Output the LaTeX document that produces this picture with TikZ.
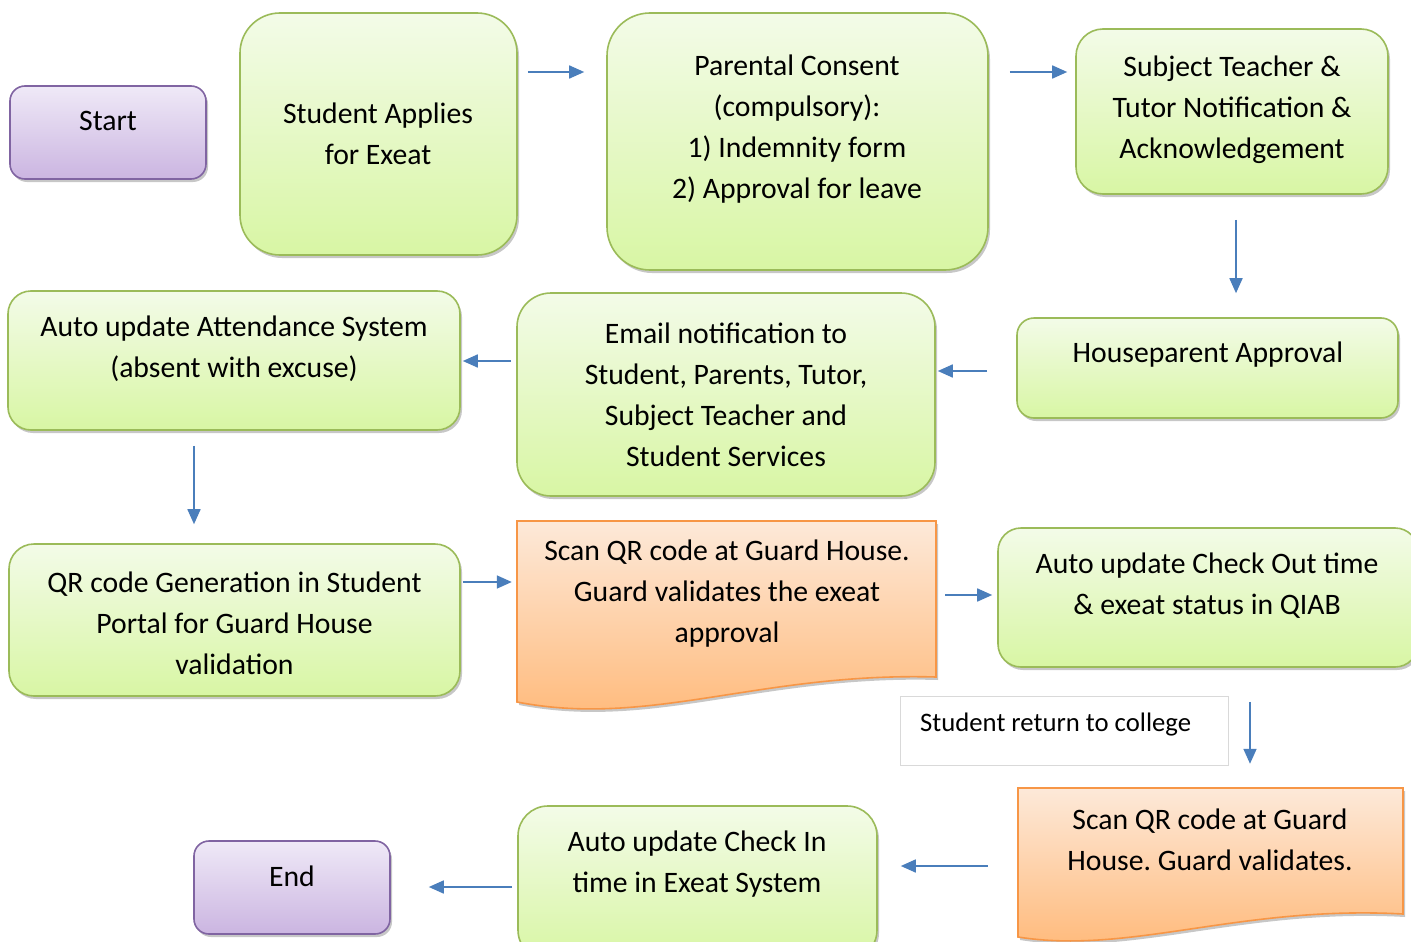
\documentclass[tikz,border=0pt]{standalone}
\usepackage{fontspec}
\setmainfont{Carlito}
\frenchspacing
\usetikzlibrary{arrows.meta,shadows,calc}
\definecolor{gtop}{HTML}{F3FBE8}
\definecolor{gbot}{HTML}{D8F6A4}
\definecolor{gborder}{HTML}{9BBB59}
\definecolor{otop}{HTML}{FDE9D9}
\definecolor{obot}{HTML}{FFB877}
\definecolor{oborder}{HTML}{F79646}
\definecolor{ptop}{HTML}{EFE9F7}
\definecolor{pbot}{HTML}{CBB5E1}
\definecolor{pborder}{HTML}{8064A2}
\definecolor{ablue}{HTML}{4A7EBB}
\begin{document}
\begin{tikzpicture}[x=1pt,y=-1pt,
  shad/.style={drop shadow={shadow xshift=2pt,shadow yshift=-3pt,opacity=0.22,fill=black}},
  gbox/.style={draw=gborder,line width=1.6pt,top color=gtop,bottom color=gbot,shad,inner sep=0pt},
  pbox/.style={draw=pborder,line width=1.6pt,top color=ptop,bottom color=pbot,shad,inner sep=0pt},
  obox/.style={draw=oborder,line width=1.6pt,top color=otop,bottom color=obot,shad},
  ghost/.style={inner sep=0pt},
  txt/.style={font=\fontsize{29.7pt}{41pt}\selectfont\frenchspacing,align=center,inner sep=0pt},
  smalltxt/.style={font=\fontsize{26.7pt}{32pt}\selectfont,inner sep=0pt},
  arr/.style={draw=ablue,line width=1.7pt,-{Triangle[length=15pt,width=13pt]}}]
\clip (0,0) rectangle (1411,942);
\fill[white] (0,0) rectangle (1411,942);

% boxes
\node[pbox,rounded corners=15pt,minimum width=196pt,minimum height=93pt] (start) at (108,132.5) {};
\node[gbox,rounded corners=40pt,minimum width=277pt,minimum height=242pt] (sa) at (378.5,134) {};
\node[gbox,rounded corners=43pt,minimum width=381pt,minimum height=257pt] (pc) at (797.5,141.5) {};
\node[gbox,rounded corners=27pt,minimum width=312pt,minimum height=165pt] (st) at (1232,111.5) {};
\node[gbox,rounded corners=17pt,minimum width=381pt,minimum height=100pt] (hp) at (1207.5,368) {};
\node[gbox,rounded corners=34pt,minimum width=418pt,minimum height=203pt] (em) at (726,394.5) {};
\node[gbox,rounded corners=23pt,minimum width=452pt,minimum height=139pt] (at) at (234,360.5) {};
\node[gbox,rounded corners=25pt,minimum width=451pt,minimum height=152pt] (qr) at (234.5,620) {};
\node[gbox,rounded corners=23pt,minimum width=420pt,minimum height=139pt] (co) at (1208,597.5) {};
\node[gbox,rounded corners=30pt,minimum width=359pt,minimum height=154pt] (ci) at (697.5,883) {};
\node[pbox,rounded corners=15pt,minimum width=196pt,minimum height=93pt] (end) at (292,887.5) {};

% document shapes
\path[obox] (517,521) -- (936,521) -- (936,677) .. controls (760,672) and (650,728) .. (517,702) -- cycle;
\node[ghost,minimum width=419pt,minimum height=181pt] (d1) at (726.5,611.5) {};
\path[obox] (1018,788) -- (1403,788) -- (1403,914) .. controls (1240,905) and (1130,955) .. (1018,937) -- cycle;
\node[ghost,minimum width=385pt,minimum height=154pt] (d2) at (1210.5,865) {};

% text box
\node[draw=black!15,line width=0.8pt,fill=white,minimum width=328pt,minimum height=69pt,inner sep=0pt] (tb) at (1064,730.5) {};

% texts
\node[txt] (t-start) at (108,121) {Start};
\node[txt] (t-sa) at (378,134) {Student Applies\\for Exeat};
\node[txt] (t-pc) at (797,129) {Parental Consent\\(compulsory):\\1) Indemnity form\\2) Approval for leave};
\node[txt] (t-st) at (1232,110) {Subject Teacher \&\\Tutor Notification \&\\Acknowledgement};
\node[txt] (t-hp) at (1208,355) {Houseparent Approval};
\node[txt] (t-em) at (726,395) {Email notification to\\Student, Parents, Tutor,\\Subject Teacher and\\Student Services};
\node[txt] (t-at) at (234,349) {Auto update Attendance System\\(absent with excuse)};
\node[txt] (t-qr) at (234.5,623.5) {QR code Generation in Student\\Portal for Guard House\\validation};
\node[txt] (t-d1) at (727,594) {Scan QR code at Guard House.\\Guard validates the exeat\\approval};
\node[txt] (t-co) at (1207,586) {Auto update Check Out time\\\& exeat status in QIAB};
\node[smalltxt,anchor=west] (t-tb) at (920,724.5) {Student return to college};
\node[txt] (t-d2) at (1210,840) {Scan QR code at Guard\\House. Guard validates.};
\node[txt] (t-ci) at (697,864) {Auto update Check In\\time in Exeat System};
\node[txt] (t-end) at (292,876) {End};

% arrow levels
\coordinate (y1) at (0,72);
\coordinate (x3) at (1236,0);
\coordinate (y4) at (0,371);
\coordinate (y5) at (0,361);
\coordinate (x6) at (194,0);
\coordinate (y7) at (0,582);
\coordinate (y8) at (0,595);
\coordinate (x9) at (1250,0);
\coordinate (y10) at (0,866);
\coordinate (y11) at (0,887);

\draw[arr,shorten <=10pt,shorten >=22pt] (sa.east |- y1) -- (pc.west |- y1);
\draw[arr,shorten <=21pt,shorten >=8pt] (pc.east |- y1) -- (st.west |- y1);
\draw[arr,shorten <=25pt,shorten >=24pt] (st.south -| x3) -- (hp.north -| x3);
\draw[arr,shorten <=29pt,shorten >=2pt] (hp.west |- y4) -- (em.east |- y4);
\draw[arr,shorten <=5pt,shorten >=2pt] (em.west |- y5) -- (at.east |- y5);
\draw[arr,shorten <=15pt,shorten >=19pt] (at.south -| x6) -- (qr.north -| x6);
\draw[arr,shorten <=2pt,shorten >=5pt] (qr.east |- y7) -- (d1.west |- y7);
\draw[arr,shorten <=9pt,shorten >=5pt] (d1.east |- y8) -- (co.west |- y8);
\draw[arr,shorten <=34pt,shorten >=24pt] (co.south -| x9) -- (d2.north -| x9);
\draw[arr,shorten <=30pt,shorten >=23pt] (d2.west |- y10) -- (ci.east |- y10);
\draw[arr,shorten <=5pt,shorten >=38pt] (ci.west |- y11) -- (end.east |- y11);
\end{tikzpicture}
\end{document}
